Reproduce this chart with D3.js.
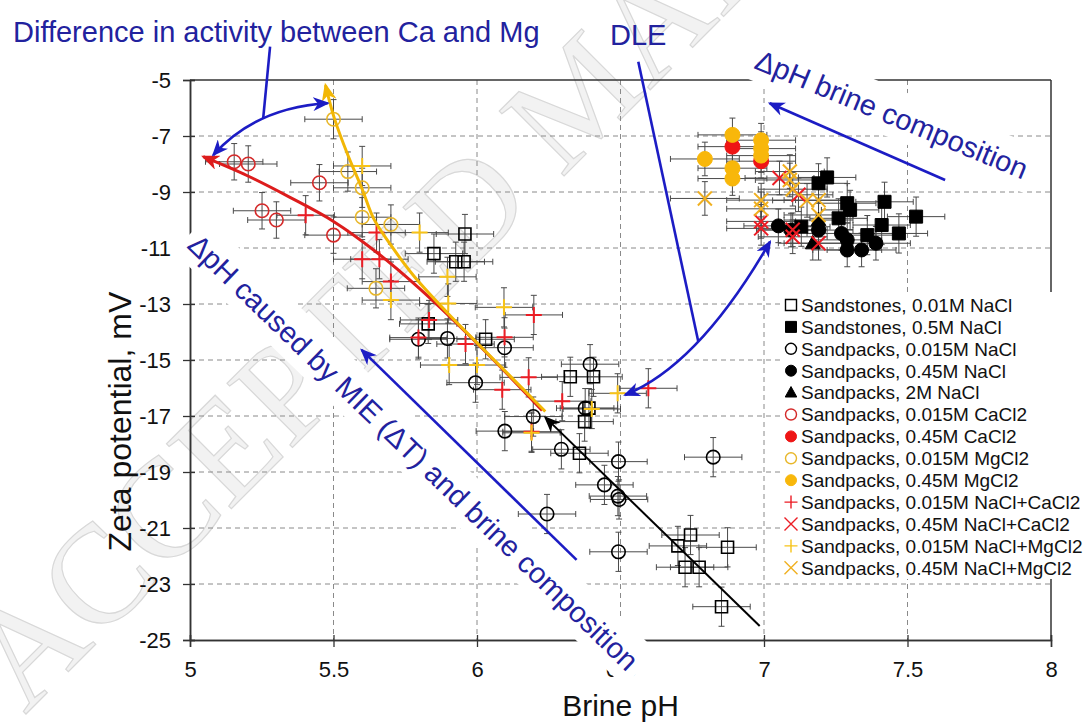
<!DOCTYPE html>
<html>
<head>
<meta charset="utf-8">
<title>Zeta potential vs brine pH</title>
<style>
  body { margin: 0; background: #fff; }
  svg text { font-family: "Liberation Sans", Arial, sans-serif; }
</style>
</head>
<body>
<script src="https://cdn.jsdelivr.net/npm/d3@7/dist/d3.min.js"></script>
<script>
// axis ticks
const xTicks = [5, 5.5, 6, 6.5, 7, 7.5, 8];
const yTicks = [-25, -23, -21, -19, -17, -15, -13, -11, -9, -7, -5];

// legend labels (same order as the series below)
const legendLabels = [
  "Sandstones, 0.01M NaCl", "Sandstones, 0.5M NaCl", "Sandpacks, 0.015M NaCl",
  "Sandpacks, 0.45M NaCl", "Sandpacks, 2M NaCl", "Sandpacks, 0.015M CaCl2",
  "Sandpacks, 0.45M CaCl2", "Sandpacks, 0.015M MgCl2", "Sandpacks, 0.45M MgCl2",
  "Sandpacks, 0.015M NaCl+CaCl2", "Sandpacks, 0.45M NaCl+CaCl2",
  "Sandpacks, 0.015M NaCl+MgCl2", "Sandpacks, 0.45M NaCl+MgCl2"
];

// points [pH, zeta mV]
const ssNaClLow = [[5.958,-10.5],[5.85,-11.2],[5.926,-11.49],[5.955,-11.49],[5.83,-13.71],[6.03,-14.26],
  [6.325,-15.6],[6.406,-15.6],[6.39,-16.72],[6.375,-17.2],[6.357,-18.33],[6.744,-21.25],[6.70,-21.64],
  [6.873,-21.69],[6.725,-22.4],[6.774,-22.4],[6.852,-23.81]];
const ssNaClHigh = [[7.22,-8.48],[7.19,-8.69],[7.29,-9.4],[7.30,-9.64],[7.42,-9.35],[7.53,-9.88],
  [7.26,-9.94],[7.41,-10.18],[7.36,-10.54],[7.47,-10.48],[7.13,-10.24]];
const spNaClLow = [[5.796,-14.26],[5.897,-14.23],[6.096,-14.56],[5.995,-15.81],[6.394,-15.15],[6.377,-16.72],
  [6.196,-17.02],[6.097,-17.54],[6.294,-18.19],[6.493,-18.63],[6.823,-18.47],[6.444,-19.46],[6.491,-19.86],
  [6.495,-19.98],[6.244,-20.5],[6.493,-21.85]];
const spNaClHigh = [[7.05,-10.21],[7.094,-10.36],[7.19,-10.36],[7.27,-10.48],[7.29,-10.71],[7.29,-11.07],
  [7.34,-11.07],[7.39,-10.83]];
const spNaCl2M = [[7.19,-10.0],[7.17,-10.83]];
const spCaLow = [[5.154,-7.92],[5.203,-8.0],[5.451,-8.67],[5.251,-9.67],[5.301,-10.0],[5.50,-10.54]];
const spCaHigh = [[6.89,-7.38],[6.99,-7.9]];
const spMgLow = [[5.5,-6.4],[5.55,-8.27],[5.60,-8.85],[5.60,-9.90],[5.70,-10.16],[5.648,-12.44]];
const spMgHigh = [[6.794,-7.82],[6.89,-6.96],[6.89,-8.15],[6.89,-8.52],[6.99,-7.15],[6.99,-7.45],[6.99,-7.7]];
const spNaCaLow = [[5.403,-9.83],[5.65,-10.45],[5.60,-11.4],[5.66,-11.4],[5.70,-12.2],[5.833,-13.57],
  [5.796,-14.2],[5.96,-14.43],[6.096,-14.19],[6.198,-13.39],[6.18,-15.62],[6.088,-16.06],[6.297,-16.47],
  [6.597,-16.01],[6.19,-17.56]];
const spNaCaHigh = [[7.054,-8.5],[7.12,-9.1],[6.99,-10.05],[6.99,-10.3],[7.1,-10.35],[7.1,-10.6],[7.19,-10.83]];
const spNaMgLow = [[5.6,-8.07],[5.80,-10.45],[5.70,-12.86],[5.897,-12.03],[5.90,-12.98],[6.094,-13.12],
  [5.903,-15.18],[6.0,-15.18],[6.49,-16.19],[6.40,-16.75],[6.19,-17.6]];
const spNaMgHigh = [[6.794,-9.23],[7.09,-8.27],[7.09,-8.57],[7.1,-8.9],[7.15,-9.3],[7.19,-9.29],
  [7.19,-9.82],[6.99,-9.29],[6.99,-9.6]];

// error bar half widths [pH, mV] per series
const seriesErrors = [[0.1,0.7],[0.1,0.7],[0.1,0.7],[0.12,0.6],[0.12,0.6],[0.1,0.65],[0.12,0.6],
  [0.1,0.7],[0.12,0.6],[0.1,0.7],[0.12,0.6],[0.1,0.7],[0.12,0.6]];

// trend arrows
const redTrend = [[5.046,-7.74],[5.2,-8.42],[5.35,-9.2],[5.5,-10.05],[5.65,-11.15],[5.8,-12.45],[6.0,-14.4],[6.227,-16.8]];
const goldTrend = [[5.472,-5.18],[5.503,-6.37],[5.55,-7.68],[5.6,-8.9],[5.64,-9.95],[5.7,-10.9],
  [5.78,-12.0],[5.9,-13.35],[6.05,-14.9],[6.238,-16.84]];
const blackTrend = [[6.985,-24.5],[6.238,-17.05]];

// annotation geometry, in data units
const caMgLeader = [[5.279,-3.81],[5.255,-6.37]];
const caMgArc = [[5.081,-7.68],[5.229,-5.98],[5.48,-5.83]];
const dleLeader = [[6.562,-4.35],[6.771,-14.34]];
const dleArc = [[6.516,-16.25],[6.7735,-15.18],[7.021,-10.775]];
const brineArrow = [[7.631,-8.57],[7.02,-5.83]];
const mieArrow = [[6.347,-22.14],[5.598,-14.64]];

const width = 1086, height = 727;
const x = d3.scaleLinear().domain([5, 8]).range([190, 1051]);
const y = d3.scaleLinear().domain([-25, -5]).range([640, 80]);

const svg = d3.select("body").append("svg")
  .attr("width", width).attr("height", height);

// watermark
svg.append("text")
  .attr("transform", "translate(25,715) rotate(-45)")
  .attr("font-size", 140)
  .attr("fill", "#f2f2f2").attr("stroke", "#d8d8d8").attr("stroke-width", 1.2)
  .style("font-family", "'Liberation Serif', serif")
  .text("ACCEPTED MANUSCRIPT");

// grid
const grid = svg.append("g").attr("stroke", "#8a8a8a").attr("stroke-dasharray", "5,4").attr("stroke-width", 1);
grid.selectAll(".gx").data(xTicks.slice(1, -1)).join("line")
  .attr("x1", d => x(d)).attr("x2", d => x(d)).attr("y1", y(-5)).attr("y2", y(-25));
grid.selectAll(".gy").data(yTicks.slice(1, -1)).join("line")
  .attr("y1", d => y(d)).attr("y2", d => y(d)).attr("x1", x(5)).attr("x2", x(8));

// axes
const fmt = d => String(d);
const ax = svg.append("g").attr("transform", `translate(0,${y(-25)})`)
  .call(d3.axisBottom(x).tickValues(xTicks).tickFormat(fmt).tickSize(7).tickPadding(14));
const ax2 = svg.append("g").attr("transform", `translate(0,${y(-25)})`)
  .call(d3.axisBottom(x).tickValues(xTicks).tickFormat("").tickSize(-5));
const ay = svg.append("g").attr("transform", `translate(${x(5)},0)`)
  .call(d3.axisLeft(y).tickValues(yTicks).tickFormat(fmt).tickSize(7).tickPadding(12));
const ay2 = svg.append("g").attr("transform", `translate(${x(5)},0)`)
  .call(d3.axisLeft(y).tickValues(yTicks).tickFormat("").tickSize(-5));
[ax, ax2, ay, ay2].forEach(a => {
  a.selectAll("path").attr("stroke", "#333").attr("stroke-width", 1.5);
  a.selectAll("line").attr("stroke", "#333").attr("stroke-width", 1.3);
  a.selectAll("text").attr("font-size", 22).attr("fill", "#111")
    .style("font-family", "'Liberation Sans', Arial, sans-serif");
});
// top and right frame
svg.append("line").attr("x1", x(5)).attr("x2", x(8)).attr("y1", y(-5)).attr("y2", y(-5))
  .attr("stroke", "#333").attr("stroke-width", 1.5);
svg.append("line").attr("x1", x(8)).attr("x2", x(8)).attr("y1", y(-5)).attr("y2", y(-25))
  .attr("stroke", "#333").attr("stroke-width", 1.5);

// axis titles
svg.append("text").attr("x", (x(5) + x(8)) / 2).attr("y", 716)
  .attr("text-anchor", "middle").attr("font-size", 30).attr("fill", "#111").text("Brine pH");
svg.append("text").attr("transform", `translate(131,${y(-17.2)}) rotate(-90)`)
  .attr("text-anchor", "middle").attr("font-size", 32).attr("fill", "#111").text("Zeta potential, mV");

// rotated annotation texts with white boxes
const noteBlue = "#22229e", arrowBlue = "#1c1cc4";
function boxedNote(pt, angle, label) {
  const g = svg.append("g").attr("transform", `translate(${x(pt[0])},${y(pt[1])}) rotate(${angle})`);
  const r = g.append("rect").attr("fill", "#fff");
  const t = g.append("text").attr("font-size", 29).attr("fill", noteBlue).text(label);
  const len = t.node().getComputedTextLength();
  r.attr("x", -6).attr("y", -36).attr("width", len + 14).attr("height", 48);
}
boxedNote([6.962, -4.57], 22.5, "ΔpH brine composition");
boxedNote([4.986, -10.96], 44, "ΔpH caused by MIE (ΔT) and brine composition");

svg.append("text").attr("x", 13).attr("y", 42).attr("font-size", 29).attr("fill", noteBlue)
  .text("Difference in activity between Ca and Mg");
svg.append("text").attr("x", 610).attr("y", 45).attr("font-size", 29).attr("fill", noteBlue).text("DLE");

// markers
function shapePath(shape, s) {
  const h = s / 2;
  switch (shape) {
    case "square": return `M${-h},${-h}H${h}V${h}H${-h}Z`;
    case "circle": return `M${h},0A${h},${h} 0 1,1 ${-h},0A${h},${h} 0 1,1 ${h},0Z`;
    case "triangle": return `M0,${-h * 1.1}L${h * 1.05},${h * 0.8}L${-h * 1.05},${h * 0.8}Z`;
    case "plus": return `M${-h},0H${h}M0,${-h}V${h}`;
    case "cross": return `M${-h},${-h}L${h},${h}M${-h},${h}L${h},${-h}`;
  }
}
const seriesStyle = [
  { data: ssNaClLow, shape: "square", size: 12, stroke: "#000", fill: "none", sw: 1.6 },
  { data: ssNaClHigh, shape: "square", size: 13, stroke: "#000", fill: "#000", sw: 1 },
  { data: spNaClLow, shape: "circle", size: 13.5, stroke: "#000", fill: "none", sw: 1.6 },
  { data: spNaClHigh, shape: "circle", size: 14, stroke: "#000", fill: "#000", sw: 1 },
  { data: spNaCl2M, shape: "triangle", size: 14, stroke: "#000", fill: "#000", sw: 1 },
  { data: spCaLow, shape: "circle", size: 13.5, stroke: "#d42a2a", fill: "none", sw: 1.6 },
  { data: spCaHigh, shape: "circle", size: 15, stroke: "#ee1515", fill: "#ee1515", sw: 1 },
  { data: spMgLow, shape: "circle", size: 13.5, stroke: "#e8b72a", fill: "none", sw: 1.6 },
  { data: spMgHigh, shape: "circle", size: 15, stroke: "#f8b70a", fill: "#f8b70a", sw: 1 },
  { data: spNaCaLow, shape: "plus", size: 16, stroke: "#ec1c24", fill: "none", sw: 2 },
  { data: spNaCaHigh, shape: "cross", size: 14, stroke: "#ec1c24", fill: "none", sw: 2 },
  { data: spNaMgLow, shape: "plus", size: 16, stroke: "#f7c318", fill: "none", sw: 2 },
  { data: spNaMgHigh, shape: "cross", size: 14, stroke: "#f0b020", fill: "none", sw: 2 }
];

// error bars
const eb = svg.append("g").attr("stroke", "#4a4a4a").attr("stroke-width", 1).attr("fill", "none");
seriesStyle.forEach((s, i) => {
  const [ex, ey] = seriesErrors[i];
  eb.selectAll(null).data(s.data).join("path")
    .attr("d", d => {
      const cx = x(d[0]), cy = y(d[1]);
      const x0 = x(d[0] - ex), x1 = x(d[0] + ex), y0 = y(d[1] + ey), y1 = y(d[1] - ey);
      return `M${x0},${cy}H${x1}M${cx},${y0}V${y1}` +
        `M${x0},${cy - 3}V${cy + 3}M${x1},${cy - 3}V${cy + 3}` +
        `M${cx - 3},${y0}H${cx + 3}M${cx - 3},${y1}H${cx + 3}`;
    });
});

// points
seriesStyle.forEach(s => {
  svg.append("g").selectAll("path").data(s.data).join("path")
    .attr("transform", d => `translate(${x(d[0])},${y(d[1])})`)
    .attr("d", shapePath(s.shape, s.size))
    .attr("fill", s.fill).attr("stroke", s.stroke).attr("stroke-width", s.sw);
});

// arrowhead markers
const defs = svg.append("defs");
function head(id, color, w, hgt) {
  defs.append("marker").attr("id", id)
    .attr("viewBox", "0 0 12 10").attr("refX", 10.5).attr("refY", 5)
    .attr("markerUnits", "userSpaceOnUse").attr("markerWidth", w).attr("markerHeight", hgt)
    .attr("orient", "auto-start-reverse")
    .append("path").attr("d", "M0,0L12,5L0,10L3.5,5Z").attr("fill", color);
}
head("hBlue", arrowBlue, 17, 14);
head("hRed", "#dd1c1c", 19, 15);
head("hGold", "#f2b705", 19, 15);
head("hBlack", "#000", 17, 14);

const line = d3.line().x(d => x(d[0])).y(d => y(d[1]));
svg.append("path").attr("d", line.curve(d3.curveCatmullRom)(redTrend))
  .attr("fill", "none").attr("stroke", "#dd1c1c").attr("stroke-width", 3)
  .attr("marker-start", "url(#hRed)");
svg.append("path").attr("d", line.curve(d3.curveCatmullRom)(goldTrend))
  .attr("fill", "none").attr("stroke", "#f2b705").attr("stroke-width", 3)
  .attr("marker-start", "url(#hGold)");
svg.append("path").attr("d", line.curve(d3.curveLinear)(blackTrend))
  .attr("fill", "none").attr("stroke", "#000").attr("stroke-width", 2)
  .attr("marker-end", "url(#hBlack)");

// blue annotation arrows
const quad = p => `M${x(p[0][0])},${y(p[0][1])}Q${x(p[1][0])},${y(p[1][1])} ${x(p[2][0])},${y(p[2][1])}`;
const blue = svg.append("g").attr("fill", "none").attr("stroke", arrowBlue).attr("stroke-width", 2.6);
blue.append("path").attr("d", line.curve(d3.curveLinear)(caMgLeader));
blue.append("path").attr("d", quad(caMgArc)).attr("marker-start", "url(#hBlue)").attr("marker-end", "url(#hBlue)");
blue.append("path").attr("d", line(dleLeader));
blue.append("path").attr("d", quad(dleArc)).attr("marker-start", "url(#hBlue)").attr("marker-end", "url(#hBlue)");
blue.append("path").attr("d", line(brineArrow)).attr("marker-end", "url(#hBlue)");
blue.append("path").attr("d", line(mieArrow)).attr("marker-end", "url(#hBlue)");

// legend
const lg = svg.append("g");
lg.append("rect").attr("x", 782).attr("y", 292).attr("width", 304).attr("height", 287).attr("fill", "#fff");
const rows = lg.selectAll("g.row").data(seriesStyle).join("g")
  .attr("transform", (d, i) => `translate(791,${305 + i * 21.9})`);
rows.append("path")
  .attr("d", d => shapePath(d.shape, d.shape === "plus" || d.shape === "cross" ? 13 : 11))
  .attr("fill", d => d.fill).attr("stroke", d => d.stroke)
  .attr("stroke-width", d => d.fill === "none" ? 1.4 : 1);
rows.append("text").attr("x", 10).attr("dy", "0.36em").attr("font-size", 19).attr("fill", "#111")
  .text((d, i) => legendLabels[i]);
</script>
</body>
</html>
